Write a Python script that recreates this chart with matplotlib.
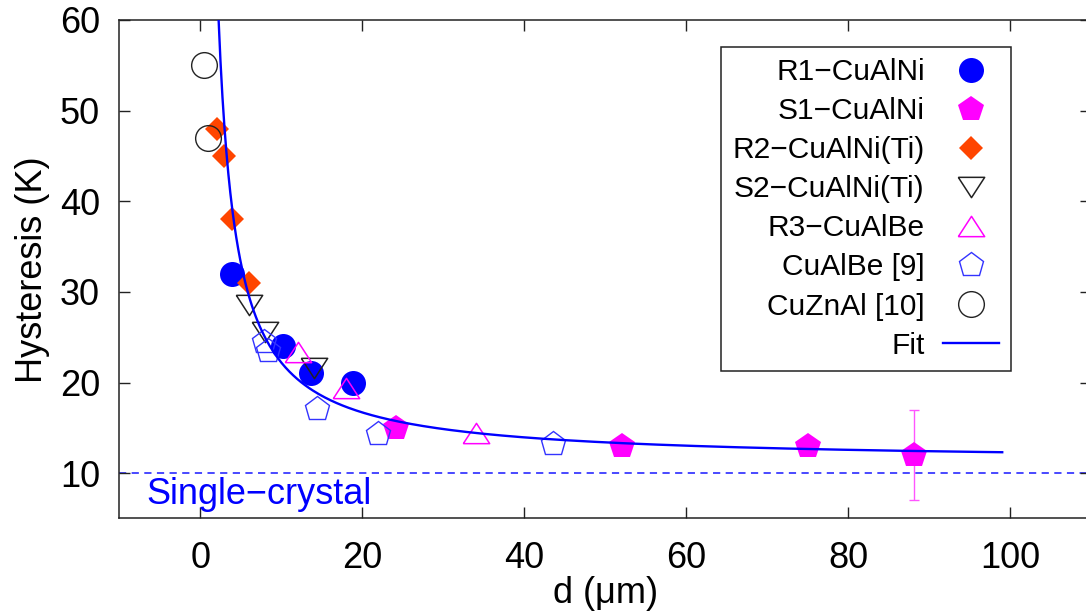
import numpy as np
import matplotlib
matplotlib.use('Agg')
import matplotlib.pyplot as plt

plt.rcParams['font.family'] = ['Liberation Sans', 'DejaVu Sans']

# grain size d (um) and hysteresis (K) for each sample set
r1_d = [3.9, 10.2, 13.6, 18.9]
r1_h = [32.0, 24.0, 21.0, 20.0]

s1_d = [24.1, 52.0, 75.0, 88.1]
s1_h = [15.0, 13.0, 13.0, 12.0]
s1_err = [0.0, 0.0, 0.0, 5.0]

r2_d = [2.06, 2.9, 3.9, 6.0]
r2_h = [48.0, 45.0, 38.0, 31.0]

s2_d = [6.0, 8.0, 14.0]
s2_h = [28.6, 25.6, 21.6]

r3_d = [12.0, 18.0, 34.0]
r3_h = [23.4, 19.4, 14.4]

cualbe_d = [7.9, 8.4, 14.4, 21.9, 43.5]
cualbe_h = [24.5, 23.5, 17.1, 14.3, 13.2]

cuznal_d = [0.5, 0.9]
cuznal_h = [55.0, 47.0]

# fit H = a + b / d
fit_a = 11.2
fit_b = 110.0
fit_range = (2.0, 99.0)

single_crystal_h = 10.0

# flattened triangles like gnuplot's
tri_up = [(-1, -0.77), (1, -0.77), (0, 0.77), (-1, -0.77)]
tri_down = [(-1, 0.77), (1, 0.77), (0, -0.77), (-1, 0.77)]

fig = plt.figure(figsize=(10.86, 6.11), dpi=100)
ax = fig.add_axes([0.1099, 0.1514, 0.895, 0.8159])

ax.axhline(single_crystal_h, color='#3a3aff', lw=1.3, ls=(0, (4, 3)), zorder=1)
ax.text(-6.6, 6.65, 'Single\u2212crystal', color='#0000ff', fontsize=26, va='baseline', ha='left')

# error bars only where given
err_idx = [i for i, e in enumerate(s1_err) if e > 0]
ax.errorbar([s1_d[i] for i in err_idx], [s1_h[i] for i in err_idx],
            yerr=[s1_err[i] for i in err_idx], fmt='none', ecolor='#ff55ff',
            elinewidth=1.0, capsize=3.6, capthick=1.0, zorder=2)

ms = 18
h1, = ax.plot(r1_d, r1_h, 'o', color='#0000ff', ms=ms, mew=0, label='R1\u2212CuAlNi', zorder=3)
h2, = ax.plot(s1_d, s1_h, 'p', color='#ff00ff', ms=ms + 1, mew=0, label='S1\u2212CuAlNi', zorder=3)
h3, = ax.plot(r2_d, r2_h, 'D', color='#ff4500', ms=12.5, mew=0, label='R2\u2212CuAlNi(Ti)', zorder=3)
h4, = ax.plot(s2_d, s2_h, marker=tri_down, ls='none', mfc='none', mec='#222222', ms=19, mew=1.1,
              label='S2\u2212CuAlNi(Ti)', zorder=3)
h5, = ax.plot(r3_d, r3_h, marker=tri_up, ls='none', mfc='none', mec='#ff00ff', ms=19, mew=1.1,
              label='R3\u2212CuAlBe', zorder=3)
h6, = ax.plot(cualbe_d, cualbe_h, 'p', mfc='none', mec='#3333ff', ms=ms + 0.5, mew=1.0,
              label='CuAlBe [9]', zorder=3)
h7, = ax.plot(cuznal_d, cuznal_h, 'o', mfc='none', mec='#222222', ms=18.5, mew=1.0,
              label='CuZnAl [10]', zorder=3)

d_fit = np.linspace(fit_range[0], fit_range[1], 400)
h8, = ax.plot(d_fit, fit_a + fit_b / d_fit, color='#0000ff', lw=1.7, label='Fit', zorder=4)

ax.set_xlim(-10, 110)
ax.set_ylim(5, 60)
ax.set_xticks([0, 20, 40, 60, 80, 100])
ax.set_yticks([10, 20, 30, 40, 50, 60])
ax.tick_params(direction='in', length=8, width=1.0, top=True, right=True, labelsize=26, color='#222222')
ax.tick_params(axis='x', pad=16)
ax.tick_params(axis='y', pad=14)
for sp in ax.spines.values():
    sp.set_linewidth(1.1)
    sp.set_color('#222222')

ax.set_xlabel('d (\u03bcm)', fontsize=26, labelpad=0)
ax.set_ylabel('Hysteresis (K)', fontsize=26, labelpad=7)

leg = ax.legend(handles=[h1, h2, h3, h4, h5, h6, h7, h8], loc='upper right',
                bbox_to_anchor=(0.917, 0.946), borderaxespad=0, fontsize=21.5,
                markerfirst=False, numpoints=1, fancybox=False, framealpha=1,
                edgecolor='#222222', labelspacing=0.37, handlelength=1.9,
                handletextpad=0.6, borderpad=0.38)
leg.get_frame().set_linewidth(1.1)
# right-align the rows so the labels line up against the symbols
for col in leg._legend_handle_box.get_children():
    col.align = 'right'

fig.savefig('out.png', dpi=100)
